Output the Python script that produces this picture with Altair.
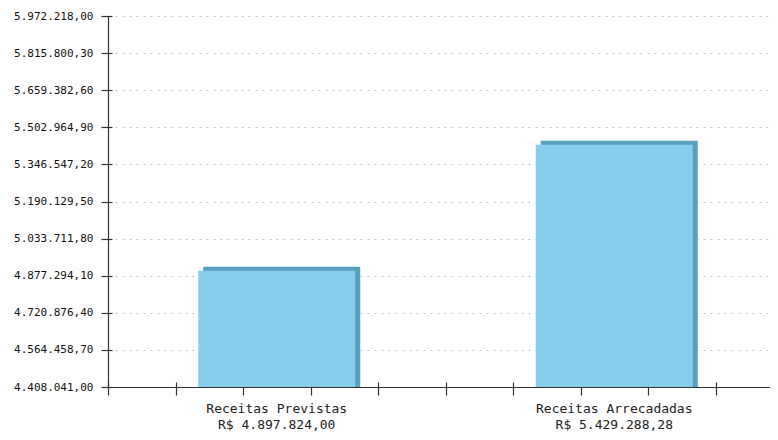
import altair as alt
import pandas as pd

# ---- data ----
categories = ["Receitas Previstas", "Receitas Arrecadadas"]
values = [4897824.00, 5429288.28]
y_ticks = [4408041.0, 4564458.7, 4720876.4, 4877294.1, 5033711.8, 5190129.5,
           5346547.2, 5502964.9, 5659382.6, 5815800.3, 5972218.0]
x_tick_positions = [0, 1, 2, 3, 4, 5, 6, 7, 8, 9]

LIGHT = "#87CEEB"
DARK = "#5A9FC0"
AXIS = "#333333"
MONO = "DejaVu Sans Mono"

PLOT_W = 662
PLOT_H = 371

y_min, y_max = y_ticks[0], y_ticks[-1]


def brl(v):
    s = f"{v:,.2f}"
    return s.replace(",", "_").replace(".", ",").replace("_", ".")


bars = pd.DataFrame({
    "label": [f"{c}|R$ {brl(v)}" for c, v in zip(categories, values)],
    "value": values,
})

yscale = alt.Scale(domain=[y_min, y_max], zero=False, nice=False)
xscale = alt.Scale(paddingInner=0.5348, paddingOuter=0.2481, align=0.5388)

x_axis = alt.Axis(
    title=None, ticks=False, domain=True, domainColor=AXIS, domainWidth=1.2,
    labelAngle=0, labelExpr="split(datum.label, '|')", labelFont=MONO,
    labelFontSize=13, labelLineHeight=16, labelPadding=15, labelColor="#222",
    labelBaseline="top",
)
y_axis = alt.Axis(
    title=None, values=y_ticks, format=",.2f", ticks=False, domain=True,
    domainColor=AXIS, domainWidth=1.2, grid=True, gridColor="#c4c4c4",
    gridDash=[2, 5], gridWidth=1, labelFont=MONO, labelFontSize=11,
    labelColor="#111", labelPadding=15,
)

base = alt.Chart(bars).encode(
    x=alt.X("label:N", sort=None, scale=xscale, axis=x_axis),
    y=alt.Y("value:Q", scale=yscale, axis=y_axis),
    y2=alt.datum(y_min),
)

back = base.mark_bar(color=DARK, xOffset=5, yOffset=-4)
front = base.mark_bar(color=LIGHT)

ytick_layer = alt.Chart(pd.DataFrame({"v": y_ticks})).mark_point(opacity=0).encode(
    y=alt.Y("v:Q", scale=yscale, axis=alt.Axis(
        orient="left", values=y_ticks, labels=False, domain=False, grid=False,
        ticks=True, tickSize=11, offset=-4, tickColor=AXIS, tickWidth=1.2,
        title=None)),
)

xtick_layer = alt.Chart(pd.DataFrame({"t": x_tick_positions})).mark_point(opacity=0).encode(
    x=alt.X("t:Q", scale=alt.Scale(domain=[0, PLOT_W / 67.5], nice=False, zero=False),
            axis=alt.Axis(
                orient="bottom", values=x_tick_positions, labels=False, domain=False,
                grid=False, ticks=True, tickSize=13, offset=-5, tickColor=AXIS,
                tickWidth=1.2, title=None)),
)

chart = alt.layer(
    alt.layer(back, front), ytick_layer, xtick_layer
).resolve_scale(
    x="independent", y="independent"
).properties(
    width=PLOT_W, height=PLOT_H,
    padding={"left": 5, "top": 2, "right": 0, "bottom": 0},
).configure(
    locale={"number": {"decimal": ",", "thousands": ".", "grouping": [3],
                       "currency": ["R$ ", ""]}}
).configure_view(
    strokeWidth=0
)

chart.save("out.html", embed_options={"renderer": "svg", "actions": False})
